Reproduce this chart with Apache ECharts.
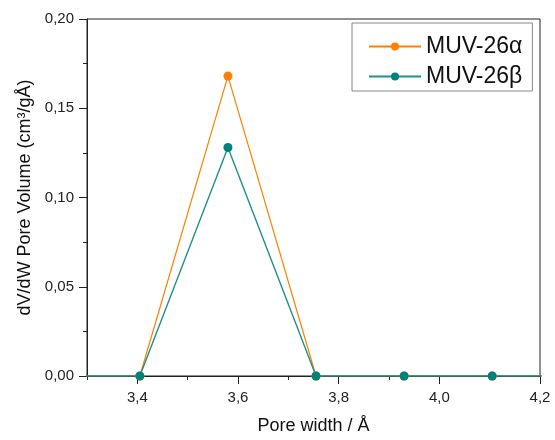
<!DOCTYPE html>
<html>
<head>
<meta charset="utf-8">
<script src="https://cdn.jsdelivr.net/npm/echarts@6/dist/echarts.min.js"></script>
<style>
  html, body { margin: 0; padding: 0; background: #fff; }
  #chart { width: 555px; height: 440px; }
</style>
</head>
<body>
<div id="chart"></div>
<script>
// pore widths (Å) and dV/dW values
const poreWidth = [3.23, 3.405, 3.58, 3.755, 3.93, 4.105, 4.28];
const muv26Alpha = [0, 0, 0.168, 0, 0, 0, 0];
const muv26Beta = [0, 0, 0.128, 0, 0, 0, 0];

const xMajorTicks = [3.4, 3.6, 3.8, 4.0, 4.2];
const xMinorTicks = [3.3, 3.5, 3.7, 3.9, 4.1];

const toPairs = (xs, ys) => xs.map((x, i) => [x, ys[i]]);
const comma = (v, d) => v.toFixed(d).replace('.', ',');

const myChart = echarts.init(document.getElementById('chart'));

const axisColor = '#222';
const font = 'Liberation Sans, Arial, sans-serif';

// extra bottom axis that only draws a set of ticks
const tickAxis = (values, len) => ({
    type: 'value',
    min: 3.3, max: 4.2,
    position: 'bottom',
    axisLine: { show: false },
    axisTick: { show: true, length: len, customValues: values, lineStyle: { color: axisColor } },
    axisLabel: { show: false },
    splitLine: { show: false }
});

const option = {
    animation: false,
    grid: {
        left: 87, right: 15, top: 19, bottom: 64,
        show: true, borderColor: axisColor, borderWidth: 1
    },
    legend: {
        orient: 'vertical',
        left: 352, top: 23,
        padding: [12, 10, 3, 16],
        itemGap: 7,
        itemWidth: 52, itemHeight: 10,
        borderColor: '#888', borderWidth: 1,
        textStyle: { fontSize: 23, fontFamily: font, color: '#111' },
        data: ['MUV-26α', 'MUV-26β']
    },
    xAxis: [
        {
            type: 'value',
            min: 3.3, max: 4.2,
            name: 'Pore width / Å',
            nameLocation: 'middle',
            nameGap: 41,
            nameTextStyle: { fontSize: 18, fontFamily: font, color: '#111' },
            axisLine: { lineStyle: { color: axisColor } },
            axisTick: { show: false },
            axisLabel: {
                customValues: xMajorTicks,
                fontSize: 15, fontFamily: font, color: '#222', margin: 14,
                formatter: v => comma(v, 1)
            },
            splitLine: { show: false }
        },
        tickAxis(xMajorTicks, 8),
        tickAxis(xMinorTicks, 4)
    ],
    yAxis: {
        type: 'value',
        min: 0, max: 0.2, interval: 0.05,
        name: 'dV/dW Pore Volume (cm³/gÅ)',
        nameLocation: 'middle',
        nameGap: 50,
        nameTextStyle: { fontSize: 18, fontFamily: font, color: '#111' },
        axisLine: { show: true, lineStyle: { color: axisColor } },
        axisTick: { show: true, length: 8, lineStyle: { color: axisColor } },
        minorTick: { show: true, splitNumber: 2, length: 4, lineStyle: { color: axisColor } },
        axisLabel: {
            fontSize: 15, fontFamily: font, color: '#222', margin: 13,
            formatter: v => comma(v, 2)
        },
        splitLine: { show: false }
    },
    series: [
        {
            name: 'MUV-26α',
            type: 'line',
            data: toPairs(poreWidth, muv26Alpha),
            symbol: 'circle',
            symbolSize: 9,
            itemStyle: { color: '#ff8000' },
            lineStyle: { color: '#ff8000', width: 1.2 }
        },
        {
            name: 'MUV-26β',
            type: 'line',
            data: toPairs(poreWidth, muv26Beta),
            symbol: 'circle',
            symbolSize: 9,
            itemStyle: { color: '#00827c' },
            lineStyle: { color: '#1f918b', width: 1.4 }
        }
    ]
};

myChart.setOption(option);
</script>
</body>
</html>
